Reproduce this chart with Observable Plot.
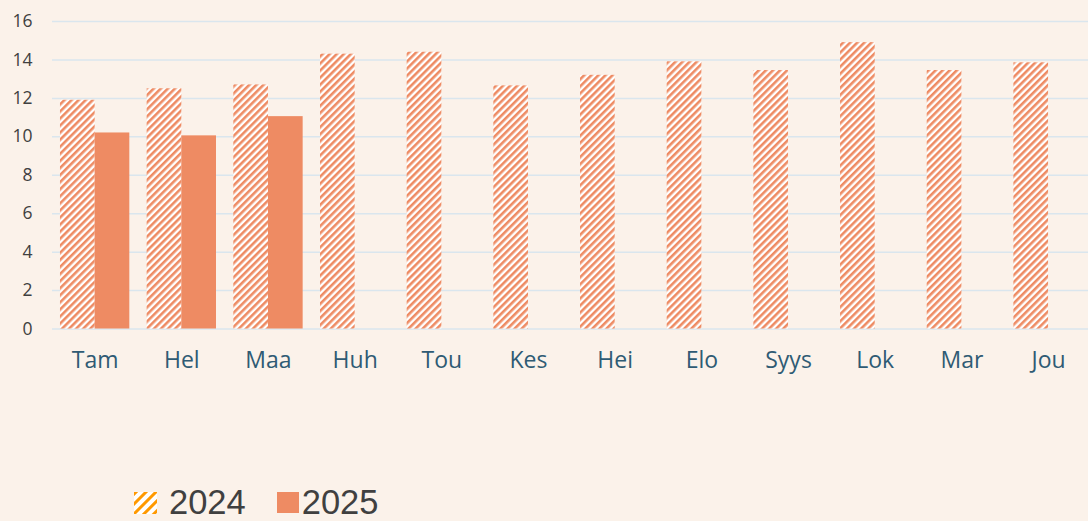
<!DOCTYPE html>
<html>
<head>
<meta charset="utf-8">
<script src="https://cdn.jsdelivr.net/npm/d3@7"></script>
<script src="https://cdn.jsdelivr.net/npm/@observablehq/plot@0.6"></script>
<style>
  html, body { margin: 0; padding: 0; background: #FBF2EA; }
  #chart { width: 1088px; height: 521px; overflow: hidden; background: #FBF2EA; }
  #legend { display: flex; align-items: center; height: 31px; font-family: "Liberation Sans", Arial, sans-serif; font-size: 34.5px; color: #404040; padding-left: 134px; line-height: 31px; }
  #legend .item { display: flex; align-items: center; margin-right: 31px; }
  #legend svg { margin-right: 12px; }
</style>
</head>
<body>
<div id="chart"></div>
<script>
const months = ["Tam","Hel","Maa","Huh","Tou","Kes","Hei","Elo","Syys","Lok","Mar","Jou"];
const values2024 = [11.9, 12.5, 12.7, 14.3, 14.4, 12.65, 13.2, 13.9, 13.45, 14.9, 13.45, 13.85];
const values2025 = [10.2, 10.05, 11.05];
const yTicks = [0, 2, 4, 6, 8, 10, 12, 14, 16];
const seriesNames = ["2024", "2025"];

const data2024 = months.map((m, i) => ({month: m, value: values2024[i]}));
const data2025 = values2025.map((v, i) => ({month: months[i], value: v}));

const barColor = "#EE8B63";

const plot = Plot.plot({
  width: 1088,
  height: 487,
  marginLeft: 52,
  marginRight: 0,
  marginTop: 21,
  marginBottom: 158.5,
  style: {background: "transparent", overflow: "visible"},
  x: {domain: months, range: [52, 1090.7], round: false, paddingInner: 0.2, paddingOuter: 0.092, label: null},
  y: {domain: [0, 16], label: null},
  marks: [
    Plot.ruleY(yTicks, {stroke: "#DAE6EE", strokeWidth: 1.5}),
    Plot.barY(data2024, {x: "month", y: "value", fill: "url(#hatch2024)", insetRight: 34.67}),
    Plot.barY(data2025, {x: "month", y: "value", fill: barColor, insetLeft: 34.67}),
    Plot.axisY({ticks: yTicks, tickSize: 0, tickPadding: 20, fontSize: 17.5, fill: "#404040", fontFamily: "Open Sans, sans-serif", label: null}),
    Plot.axisX({tickSize: 0, tickPadding: 23, fontSize: 23, fill: "#2F5B74", fontFamily: "Open Sans, sans-serif", label: null})
  ]
});

// hatch pattern definition
const svg = d3.select(plot);
const defs = svg.insert("defs", ":first-child");
const pat = defs.append("pattern")
  .attr("id", "hatch2024")
  .attr("patternUnits", "userSpaceOnUse")
  .attr("width", 5).attr("height", 5)
  .attr("patternTransform", "rotate(45)");
pat.append("rect").attr("width", 5).attr("height", 5).attr("fill", "#FFFFFF");
pat.append("rect").attr("width", 2.6).attr("height", 5).attr("fill", barColor);

document.getElementById("chart").appendChild(plot);

// legend
const legend = d3.select("#chart").append("div").attr("id", "legend");
const item1 = legend.append("div").attr("class", "item");
const sw1 = item1.append("svg").attr("width", 23).attr("height", 22);
const pdef = sw1.append("defs").append("pattern")
  .attr("id", "hatchLegend").attr("patternUnits", "userSpaceOnUse")
  .attr("width", 7).attr("height", 7).attr("patternTransform", "rotate(45)");
pdef.append("rect").attr("width", 7).attr("height", 7).attr("fill", "#FFFFFF");
pdef.append("rect").attr("width", 3).attr("height", 7).attr("fill", "#FF9900");
sw1.append("rect").attr("width", 23).attr("height", 22).attr("fill", "url(#hatchLegend)");
item1.append("span").text(seriesNames[0]);
const item2 = legend.append("div").attr("class", "item");
item2.append("svg").attr("width", 22).attr("height", 21).style("margin-right", "3px")
  .append("rect").attr("width", 22).attr("height", 21).attr("fill", barColor);
item2.append("span").text(seriesNames[1]);
</script>
</body>
</html>
